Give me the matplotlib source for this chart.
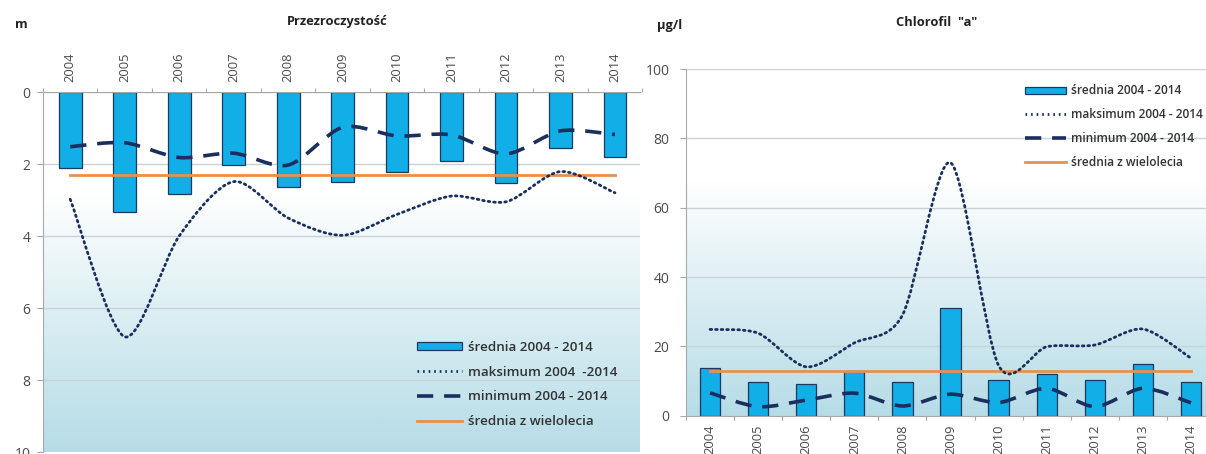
import numpy as np
import matplotlib
matplotlib.use("Agg")
import matplotlib.pyplot as plt
from matplotlib.path import Path
from matplotlib.patches import PathPatch, Patch
from matplotlib.lines import Line2D
from matplotlib.colors import LinearSegmentedColormap

plt.rcParams['font.family'] = ['Open Sans', 'DejaVu Sans']

years = ['2004', '2005', '2006', '2007', '2008', '2009', '2010', '2011', '2012', '2013', '2014']

# Przezroczystość (m)
secchi_mean = [2.12, 3.32, 2.84, 2.04, 2.63, 2.51, 2.23, 1.92, 2.52, 1.55, 1.81]
secchi_max = [2.98, 6.8, 4.0, 2.49, 3.5, 3.98, 3.4, 2.89, 3.05, 2.21, 2.8]
secchi_min = [1.52, 1.41, 1.82, 1.70, 2.03, 0.98, 1.22, 1.19, 1.72, 1.08, 1.18]
secchi_longterm = 2.3

# Chlorofil "a" (µg/l)
chl_mean = [13.8, 9.8, 9.1, 13.0, 9.6, 31.2, 10.3, 11.9, 10.3, 14.9, 9.6]
chl_max = [24.9, 23.8, 14.1, 21.0, 29.0, 73.0, 14.5, 19.9, 20.4, 25.0, 16.6]
chl_min = [6.6, 2.6, 4.5, 6.5, 2.8, 6.2, 3.8, 7.9, 2.6, 7.9, 3.7]
chl_longterm = 12.9

BAR = '#12AEE8'
BAR_EDGE = '#1B3A5C'
NAVY = '#1A2F5E'
ORANGE = '#E8914A'
GRID = '#C9D2D6'
SPINE = '#A8A8A8'
TXT = '#4A4A4A'
DOTTED = (0, (0.6, 1.4))
DASHED = (0, (4.5, 3.0))


def smooth_path(xs, ys, k=7.0):
    """Cubic Bezier path through the points (spreadsheet-style smoothed line)."""
    pts = np.column_stack([xs, ys]).astype(float)
    n = len(pts)
    verts = [pts[0]]
    codes = [Path.MOVETO]
    for i in range(n - 1):
        p0 = pts[i - 1] if i > 0 else pts[i]
        p1 = pts[i]
        p2 = pts[i + 1]
        p3 = pts[i + 2] if i + 2 < n else pts[i + 1]
        c1 = p1 + (p2 - p0) / k
        c2 = p2 - (p3 - p1) / k
        verts += [c1, c2, p2]
        codes += [Path.CURVE4] * 3
    return Path(verts, codes)


def gradient(ax, start):
    cmap = LinearSegmentedColormap.from_list(
        'bg', [(0.0, '#B7DCE7'), (0.5, '#D9EDF3'), (1.0, '#FFFFFF')])
    fy = np.linspace(0, 1, 256).reshape(-1, 1)
    g = np.clip(fy / start, 0, 1)
    ax.imshow(g, cmap=cmap, vmin=0, vmax=1, extent=[0, 1, 0, 1],
              transform=ax.transAxes, aspect='auto', origin='lower',
              zorder=0, interpolation='bilinear')


def draw(ax, mean, mx, mn, lt, top):
    x = np.arange(len(years))
    ax.bar(x, mean, width=0.42, color=BAR, edgecolor=BAR_EDGE, linewidth=0.9, zorder=2)
    ax.add_patch(PathPatch(smooth_path(x, mx), fill=False, edgecolor=NAVY,
                           linewidth=2.0, linestyle=DOTTED,
                           capstyle='round', zorder=4))
    ax.add_patch(PathPatch(smooth_path(x, mn), fill=False, edgecolor=NAVY,
                           linewidth=2.6, linestyle=DASHED, zorder=4))
    ax.plot([x[0], x[-1]], [lt, lt], color=ORANGE, linewidth=2.0, zorder=3)
    ax.grid(axis='y', color=GRID, linewidth=1.0, zorder=1)
    ax.set_axisbelow(True)
    ax.tick_params(colors=TXT, labelsize=10, width=0.8, length=4)
    ax.tick_params(axis='y', color=SPINE)
    ax.set_xticks(x, years, rotation=90)
    ax.tick_params(axis='x', length=0, labelsize=9.3)
    # short separators between categories on the category axis
    bounds = np.arange(-0.5, len(years), 1.0)
    tr = ax.get_xaxis_transform()
    y0, y1 = (1.0, 1.011) if top else (0.0, -0.011)
    ax.vlines(bounds, y0, y1, transform=tr, colors=SPINE, linewidth=0.8,
              clip_on=False, zorder=5)
    for s in ax.spines.values():
        s.set_visible(False)
    ax.spines['left'].set_visible(True)
    ax.spines['left'].set_color(SPINE)


def legend(ax, x, y, labels, size, spacing):
    handles = [
        Patch(facecolor=BAR, edgecolor=BAR_EDGE, linewidth=0.9),
        Line2D([], [], color=NAVY, linewidth=2.0, linestyle=DOTTED),
        Line2D([], [], color=NAVY, linewidth=2.6, linestyle=DASHED),
        Line2D([], [], color=ORANGE, linewidth=2.0),
    ]
    leg = ax.legend(handles, labels, loc='upper left', bbox_to_anchor=(x, y),
                    bbox_transform=fig.transFigure, frameon=False,
                    fontsize=size, handlelength=3.4, handleheight=0.55,
                    handletextpad=0.45, labelspacing=spacing, borderpad=0,
                    borderaxespad=0)
    for t in leg.get_texts():
        t.set_color('#333333')
        t.set_fontweight('semibold')
    leg.set_zorder(6)


fig = plt.figure(figsize=(12.06, 4.54), dpi=100)
W, H = 1206.0, 454.0

# Left panel: water transparency (depth axis pointing down)
ax1 = fig.add_axes([43 / W, 1 - 452 / H, 597 / W, 360 / H])
gradient(ax1, 0.72)
draw(ax1, secchi_mean, secchi_max, secchi_min, secchi_longterm, top=True)
ax1.set_xlim(-0.5, 10.46)
ax1.set_ylim(10, 0)
ax1.set_yticks([0, 2, 4, 6, 8, 10])
ax1.tick_params(axis='y', pad=5)
ax1.xaxis.tick_top()
ax1.tick_params(axis='x', top=True, bottom=False, labeltop=True, labelbottom=False, pad=7)
ax1.spines['top'].set_visible(True)
ax1.spines['top'].set_color(SPINE)
legend(ax1, 417 / W, 1 - 341 / H,
       ['średnia 2004 - 2014', 'maksimum 2004  -2014', 'minimum 2004 - 2014', 'średnia z wielolecia'],
       9.6, 0.88)

# Right panel: chlorophyll a
ax2 = fig.add_axes([686 / W, 1 - 415.7 / H, 529 / W, 346.6 / H])
gradient(ax2, 0.68)
draw(ax2, chl_mean, chl_max, chl_min, chl_longterm, top=False)
ax2.set_xlim(-0.5, 10.5)
ax2.set_ylim(0, 100)
ax2.set_yticks([0, 20, 40, 60, 80, 100])
ax2.tick_params(axis='y', pad=8)
ax2.tick_params(axis='x', pad=6.5)
ax2.spines['bottom'].set_visible(True)
ax2.spines['bottom'].set_color(SPINE)
legend(ax2, 1025 / W, 1 - 84.5 / H,
       ['średnia 2004 - 2014', 'maksimum 2004 - 2014', 'minimum 2004 - 2014', 'średnia z wielolecia'],
       8.6, 0.9)

fig.text(337 / W, 1 - 22 / H, 'Przezroczystość', ha='center', va='center',
         fontsize=9.3, fontweight='bold', color='#222222')
fig.text(15 / W, 1 - 25 / H, 'm', ha='left', va='center',
         fontsize=9.3, fontweight='bold', color='#222222')
fig.text(937 / W, 1 - 22 / H, 'Chlorofil  "a"', ha='center', va='center',
         fontsize=9.3, fontweight='bold', color='#222222')
fig.text(657 / W, 1 - 26 / H, 'µg/l', ha='left', va='center',
         fontsize=9.3, fontweight='bold', color='#222222')

fig.savefig('out.png', dpi=100)
